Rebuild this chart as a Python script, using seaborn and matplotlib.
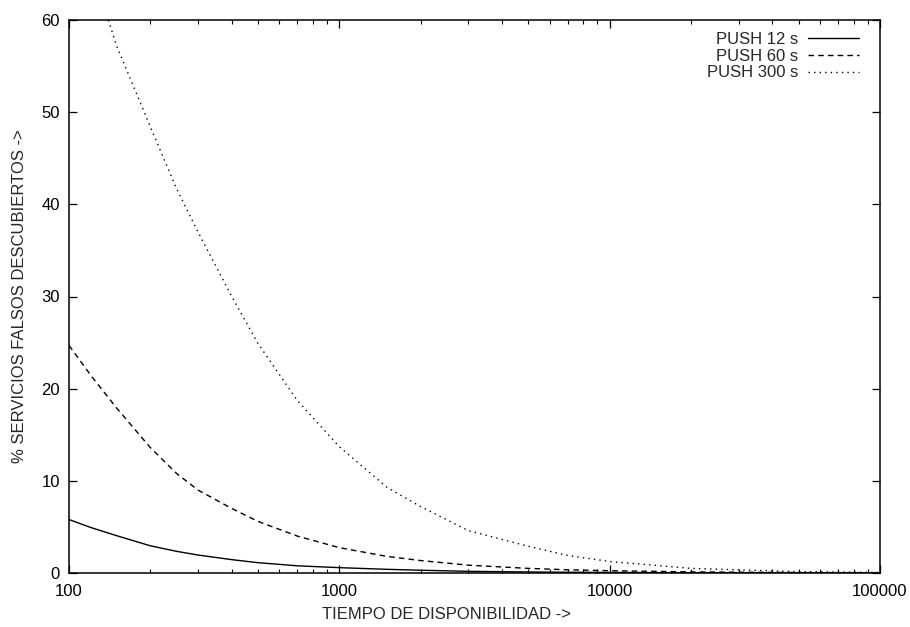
import matplotlib
matplotlib.use("Agg")
import matplotlib.pyplot as plt
import seaborn as sns
from matplotlib.lines import Line2D
from matplotlib.ticker import LogLocator, NullFormatter, FixedLocator, FixedFormatter

# ---- data ----
tiempo = [100, 120, 150, 200, 250, 300, 400, 500, 700, 1000, 1500, 2000, 3000,
          5000, 7000, 10000, 20000, 50000, 100000]
push_12 = [5.8, 4.95, 4.05, 2.95, 2.35, 1.95, 1.45, 1.12, 0.78, 0.58, 0.4, 0.3, 0.18,
           0.11, 0.08, 0.06, 0.03, 0.012, 0.006]
push_60 = [24.7, 21.5, 17.9, 13.6, 10.8, 9.0, 7.0, 5.6, 4.0, 2.75, 1.8, 1.35, 0.85,
           0.5, 0.35, 0.25, 0.12, 0.05, 0.03]
push_300 = [73.0, 66.0, 57.2, 48.4, 41.7, 37.0, 30.0, 24.9, 18.7, 13.7, 9.3, 7.2, 4.6,
            2.9, 1.9, 1.25, 0.5, 0.15, 0.06]
series_labels = ["PUSH 12 s", "PUSH 60 s", "PUSH 300 s"]
x_ticks = [100, 1000, 10000, 100000]
x_tick_labels = ["100", "1000", "10000", "100000"]
y_ticks = [0, 10, 20, 30, 40, 50, 60]
x_label = "TIEMPO DE DISPONIBILIDAD ->"
y_label = "% SERVICIOS FALSOS DESCUBIERTOS ->"

sns.set_style("ticks")
plt.rcParams['font.family'] = ['Liberation Sans', 'DejaVu Sans']
FS = 12

W, H = 910, 627
fig = plt.figure(figsize=(W / 100, H / 100), dpi=100)
left, right, top, bottom = 69, 880, 20, 573
ax = fig.add_axes([left / W, 1 - bottom / H, (right - left) / W, (bottom - top) / H])

styles = ['-', (0, (4, 3)), (0, (1, 3))]
for vals, ls in zip([push_12, push_60, push_300], styles):
    sns.lineplot(x=tiempo, y=vals, ax=ax, color='black', linewidth=1.0,
                 linestyle=ls, estimator=None, sort=True)

ax.set_xscale('log')
ax.set_xlim(100, 100000)
ax.set_ylim(0, 60)
ax.xaxis.set_major_locator(FixedLocator(x_ticks))
ax.xaxis.set_major_formatter(FixedFormatter(x_tick_labels))
ax.xaxis.set_minor_locator(LogLocator(base=10, subs=range(2, 10), numticks=20))
ax.xaxis.set_minor_formatter(NullFormatter())
ax.set_yticks(y_ticks)

ax.tick_params(which='both', direction='in', top=True, right=True, colors='black',
               labelsize=FS)
ax.tick_params(which='major', length=5.5, width=0.9)
ax.tick_params(which='minor', length=3, width=0.8)
ax.tick_params(axis='y', pad=6.5)
ax.tick_params(axis='x', pad=8)

for sp in ax.spines.values():
    sp.set_visible(True)
    sp.set_color('black')
    sp.set_linewidth(1.1)

ax.set_xlabel(x_label, fontsize=FS)
ax.set_ylabel(y_label, fontsize=FS)
ax.xaxis.set_label_coords(0.466, -0.062)
ax.yaxis.set_label_coords(-0.052, 0.5)

handles = [Line2D([], [], color='black', linewidth=1.0, linestyle=ls) for ls in styles]
ax.legend(handles, series_labels, loc='upper right',
          bbox_to_anchor=(859 / W, 1 - 32 / H), bbox_transform=fig.transFigure,
          frameon=False, markerfirst=False, handlelength=3.05, handletextpad=0.6,
          labelspacing=0.1, borderpad=0, borderaxespad=0, fontsize=FS)

fig.savefig('out.png', dpi=100)
